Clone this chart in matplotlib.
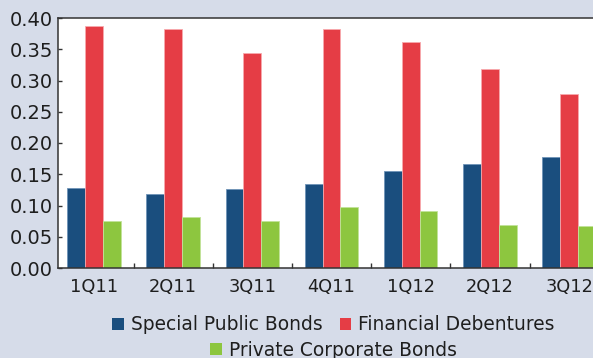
import numpy as np
import matplotlib
matplotlib.use("Agg")
import matplotlib.pyplot as plt
from matplotlib.patches import Patch

quarters = ["1Q11", "2Q11", "3Q11", "4Q11", "1Q12", "2Q12", "3Q12"]
special_public = [0.128, 0.119, 0.127, 0.135, 0.155, 0.166, 0.177]
financial_deb = [0.388, 0.382, 0.344, 0.383, 0.361, 0.318, 0.278]
private_corp = [0.076, 0.081, 0.076, 0.098, 0.091, 0.069, 0.067]
names = ["Special Public Bonds", "Financial Debentures", "Private Corporate Bonds"]
yticks = [0.00, 0.05, 0.10, 0.15, 0.20, 0.25, 0.30, 0.35, 0.40]

bg = "#d6dce9"
colors = ["#1a4e7e", "#e53d45", "#8dc63f"]
edges = ["#6f93b8", "#f7a9ad", "#c2e39a"]
txt = "#1e1e1e"

fig = plt.figure(figsize=(5.93, 3.58), dpi=100, facecolor=bg)
# axes runs past the right edge, like the cropped original
ax = fig.add_axes([58.3 / 593, 90 / 358, 550.4 / 593, 250 / 358])

x = np.arange(len(quarters))
w = 0.225
series = [special_public, financial_deb, private_corp]
for i, vals in enumerate(series):
    ax.bar(x + (i - 1) * w, vals, w, color=colors[i], edgecolor=edges[i],
           linewidth=0.6, zorder=2)

ax.set_xlim(-0.45, 6.5)
ax.set_ylim(0, 0.40)
ax.set_yticks(yticks)
ax.set_yticklabels(["%.2f" % v for v in yticks])
ax.set_xticks(x)
ax.set_xticklabels(quarters)
ax.set_xticks(x[:-1] + 0.5, minor=True)

ax.tick_params(axis="y", direction="in", length=3, width=1, color="#333333",
               labelsize=14, labelcolor=txt, pad=4)
ax.tick_params(axis="x", which="major", length=0, labelsize=12.8,
               labelcolor=txt, pad=7)
ax.tick_params(axis="x", which="minor", direction="in", length=3.6, width=1,
               color="#333333")

for s in ["left", "bottom", "top"]:
    ax.spines[s].set_color("#333333")
    ax.spines[s].set_linewidth(1.1)
ax.spines["right"].set_visible(False)

handles = [Patch(facecolor=c, edgecolor="none") for c in colors]
leg1 = ax.legend(handles[:2], names[:2], ncol=2, loc="center",
                 bbox_to_anchor=(0.5, -57 / 250), frameon=False,
                 fontsize=13.4, handlelength=0.62, handleheight=0.62,
                 handletextpad=0.4, columnspacing=0.9, labelcolor=txt)
ax.add_artist(leg1)
ax.legend(handles[2:], names[2:], loc="center",
          bbox_to_anchor=(0.5, -82 / 250), frameon=False,
          fontsize=13.4, handlelength=0.62, handleheight=0.62,
          handletextpad=0.4, labelcolor=txt)

fig.savefig("out.png", dpi=100, facecolor=bg)
